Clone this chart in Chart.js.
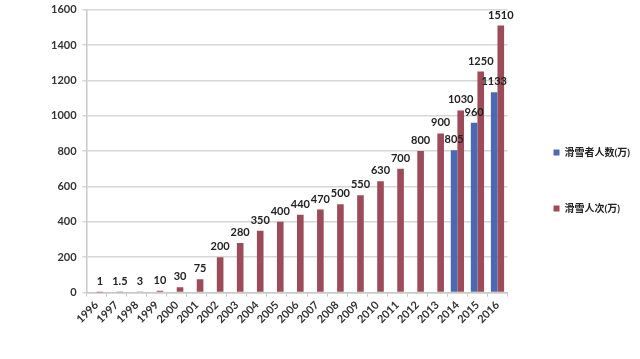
<!DOCTYPE html>
<html>
<head>
<meta charset="utf-8">
<script src="https://cdn.jsdelivr.net/npm/chart.js@4"></script>
<style>
  html, body { margin: 0; padding: 0; background: #fff; overflow: hidden; }
  #wrap { width: 640px; height: 359px; overflow: hidden; }
  #myChart { display: block; margin-top: -3px; }
</style>
</head>
<body>
<div id="wrap"><canvas id="myChart" width="640" height="362"></canvas></div>
<script>
// datos
var years = ['1996', '1997', '1998', '1999', '2000', '2001', '2002', '2003', '2004', '2005', '2006',
    '2007', '2008', '2009', '2010', '2011', '2012', '2013', '2014', '2015', '2016'];
var skiers = [null, null, null, null, null, null, null, null, null, null, null,
    null, null, null, null, null, null, null, 805, 960, 1133];
var visits = [1, 1.5, 3, 10, 30, 75, 200, 280, 350, 400, 440,
    470, 500, 550, 630, 700, 800, 900, 1030, 1250, 1510];
var seriesNames = ['滑雪者人数(万)', '滑雪人次(万)'];

var fontFam = "Lato, 'Noto Sans CJK SC', sans-serif";

// etiquetas encima de las barras
var barLabels = {
    id: 'barLabels',
    afterDatasetsDraw(chart) {
        var ctx = chart.ctx;
        ctx.save();
        ctx.font = 'bold 11px ' + fontFam;
        ctx.fillStyle = '#222';
        ctx.textAlign = 'center';
        ctx.textBaseline = 'bottom';
        chart.data.datasets.forEach((ds, i) => {
            var meta = chart.getDatasetMeta(i);
            meta.data.forEach((bar, j) => {
                var v = ds.data[j];
                if (v === null || v === undefined) return;
                ctx.fillText(String(v), bar.x, bar.y - 5);
            });
        });
        ctx.restore();
    }
};

const config = {
    type: 'bar',
    data: {
        labels: years,
        datasets: [{
            label: seriesNames[0],
            data: skiers,
            backgroundColor: '#4b69b3',
            categoryPercentage: 0.66,
            barPercentage: 1.0
        }, {
            label: seriesNames[1],
            data: visits,
            backgroundColor: '#9c4b59',
            categoryPercentage: 0.66,
            barPercentage: 1.0
        }]
    },
    options: {
        responsive: false,
        animation: false,
        layout: { padding: { left: 45, right: 0, top: 0, bottom: 31 } },
        plugins: {
            legend: {
                position: 'right',
                title: { display: true, text: ' ', padding: 12, font: { size: 10 } },
                labels: {
                    boxWidth: 6,
                    boxHeight: 6,
                    padding: 46,
                    color: '#222',
                    font: { family: fontFam, size: 10, weight: 'bold' }
                }
            },
            tooltip: { enabled: false }
        },
        scales: {
            x: {
                grid: { drawOnChartArea: false, tickLength: 4, color: '#c8c8c8' },
                border: { color: '#c8c8c8', width: 1.5 },
                ticks: {
                    color: '#333',
                    autoSkip: false,
                    maxRotation: 45,
                    minRotation: 45,
                    padding: 2,
                    font: { family: fontFam, size: 11, weight: 'bold' }
                }
            },
            y: {
                min: 0,
                max: 1600,
                ticks: {
                    stepSize: 200,
                    color: '#333',
                    padding: 6,
                    callback: (v) => String(v),
                    font: { family: fontFam, size: 11, weight: 'bold' }
                },
                grid: { color: '#d6d6d6', lineWidth: 1.5, tickLength: 4 },
                border: { color: '#c8c8c8', width: 1.5 }
            }
        }
    },
    plugins: [barLabels]
};

const myChart = new Chart(document.getElementById('myChart'), config);
</script>
</body>
</html>
